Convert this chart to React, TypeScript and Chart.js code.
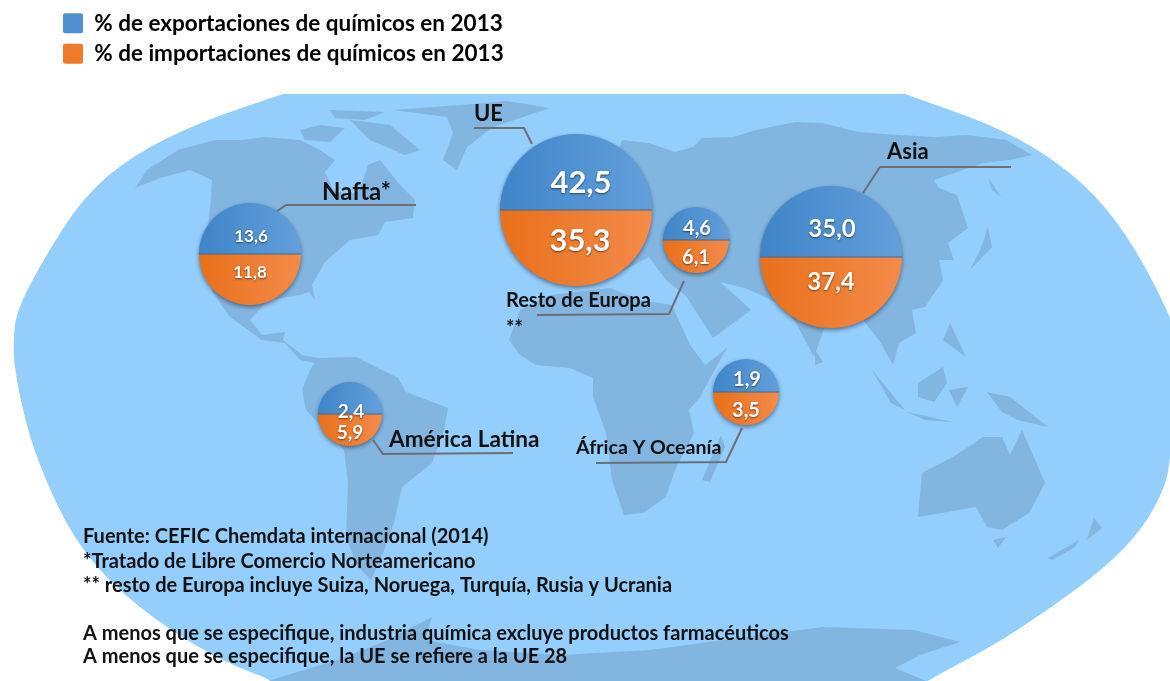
import React, { useEffect, useRef } from "react";
import { Chart, registerables } from "chart.js";

Chart.register(...registerables);

const seriesNames = ["% de exportaciones de químicos en 2013", "% de importaciones de químicos en 2013"];
const regions = ["Nafta", "UE", "Resto de Europa", "Asia", "América Latina", "África y Oceanía"];
const exportsPct = [13.6, 42.5, 4.6, 35.0, 2.4, 1.9];
const importsPct = [11.8, 35.3, 6.1, 37.4, 5.9, 3.5];

// Where each bubble sits on the map (map units match the 1170x681 frame)
const mapX = [250, 576, 696, 831, 350, 746];
const mapY = [254, 210, 240, 257, 414, 392];
const bubbleR = [51, 76, 33, 71, 32, 33];
const valueFont = [17, 31, 20, 24, 19, 20];
const exportLabelDy = [-17, -27, -11, -28, -2, -12];
const importLabelDy = [19, 31, 18, 25, 19, 19];

const FONT = "Lato, 'Open Sans', sans-serif";

const regionLabels: [string, number, number, number][] = [
  ["UE", 474, 114, 22],
  ["Nafta*", 322, 192, 24],
  ["Asia", 887, 152, 22],
  ["Resto de Europa", 506, 301, 20],
  ["**", 506, 329, 20],
  ["América Latina", 389, 440, 22.6],
  ["África Y Oceanía", 576, 448, 19.6],
];
const footnotes: [string, number][] = [
  ["Fuente: CEFIC Chemdata internacional (2014)", 537],
  ["*Tratado de Libre Comercio Norteamericano", 562],
  ["** resto de Europa incluye Suiza, Noruega, Turquía, Rusia y Ucrania", 586],
  ["A menos que se especifique, industria química excluye productos farmacéuticos", 634],
  ["A menos que se especifique, la UE se refiere a la UE 28", 657],
];
const leaders: number[][][] = [
  [[276, 212], [286, 205], [416, 205]],
  [[474, 128], [524, 128], [532, 144]],
  [[863, 193], [880, 167], [1011, 167]],
  [[684, 281], [669, 314], [537, 315]],
  [[373, 440], [383, 454], [513, 453]],
  [[742, 428], [726, 462], [596, 463]],
];

const ocean = [
  [283, 94], [905, 94], [1006, 130], [1073, 173], [1117, 220], [1153, 280], [1180, 340], [1185, 400], [1170, 453],
  [1167, 483], [1144, 527], [1106, 567], [1048, 610], [991, 647], [926, 681], [900, 700], [300, 700], [275, 681],
  [226, 663], [165, 627], [115, 587], [80, 547], [54, 500], [29, 437], [15, 373], [13, 340], [17, 310], [43, 260],
  [83, 197], [133, 155], [200, 122],
];
const land: number[][][] = [
  // North and Central America
  [[135, 188], [147, 170], [178, 150], [215, 140], [243, 140], [265, 137], [300, 140], [320, 150], [335, 160], [325, 172], [333, 190], [350, 195], [360, 190], [368, 165], [380, 160], [400, 185], [415, 200], [413, 218], [385, 222], [378, 235], [350, 240], [325, 262], [312, 285], [315, 300], [309, 292], [300, 295], [268, 300], [250, 320], [262, 335], [285, 332], [283, 340], [302, 355], [318, 358], [320, 364], [300, 360], [285, 343], [262, 340], [230, 317], [213, 293], [205, 250], [210, 210], [212, 180], [190, 170], [160, 178]],
  // Arctic islands
  [[300, 130], [320, 125], [345, 128], [330, 142], [305, 140]],
  [[350, 120], [390, 125], [420, 150], [405, 155], [370, 140]],
  [[330, 110], [385, 112], [365, 120], [335, 118]],
  [[290, 152], [315, 150], [310, 160], [288, 160]],
  // Greenland
  [[443, 160], [457, 170], [467, 147], [493, 127], [550, 108], [507, 101], [460, 105], [393, 110], [447, 117], [453, 133]],
  // Eurasia
  [[622, 140], [649, 143], [675, 152], [693, 147], [702, 138], [733, 137], [756, 130], [796, 122], [823, 123], [858, 132], [899, 135], [934, 137], [966, 135], [1006, 140], [1032, 155], [1010, 160], [983, 163], [934, 180], [939, 188], [957, 195], [963, 213], [968, 228], [948, 243], [954, 260], [939, 260], [943, 280], [925, 307], [912, 310], [916, 333], [899, 343], [893, 365], [881, 343], [863, 320], [827, 320], [814, 357], [796, 323], [782, 305], [745, 288], [720, 282], [738, 298], [751, 310], [713, 338], [686, 296], [666, 280], [649, 257], [625, 270], [600, 275], [540, 270], [520, 260], [540, 220], [590, 190], [615, 160]],
  // Africa
  [[509, 340], [520, 310], [550, 295], [610, 288], [640, 300], [672, 305], [690, 345], [705, 365], [727, 348], [713, 373], [700, 397], [689, 410], [694, 433], [675, 470], [666, 497], [643, 513], [624, 515], [612, 480], [606, 433], [593, 397], [593, 378], [570, 368], [536, 365], [520, 355]],
  [[721, 435], [702, 480], [710, 482], [725, 447]],
  // South America
  [[318, 358], [356, 357], [398, 378], [406, 392], [448, 408], [444, 430], [432, 463], [402, 487], [394, 523], [383, 553], [371, 580], [358, 567], [346, 537], [348, 483], [344, 450], [306, 410], [302, 390], [310, 370]],
  // Australia, New Zealand
  [[953, 457], [983, 437], [1002, 437], [1010, 455], [1022, 430], [1045, 483], [1029, 513], [1002, 530], [987, 527], [976, 507], [918, 517], [922, 473]],
  [[993, 540], [1006, 537], [998, 548]],
  [[1048, 558], [1079, 540], [1075, 547], [1052, 560]],
  [[1094, 518], [1102, 528], [1087, 540], [1090, 530]],
  // South-east Asia, Japan
  [[872, 370], [905, 410], [891, 403]],
  [[918, 383], [943, 367], [947, 383], [934, 402], [918, 397]],
  [[907, 412], [953, 422], [925, 420]],
  [[949, 390], [968, 387], [957, 407]],
  [[987, 392], [1010, 397], [1048, 427], [1018, 420], [1002, 412]],
  [[950, 323], [966, 357], [943, 340]],
  [[988, 227], [992, 247], [970, 270], [980, 250]],
  [[988, 177], [1001, 197], [992, 190]],
  [[815, 350], [823, 362], [815, 365]],
  // Antarctica
  [[268, 681], [337, 660], [383, 642], [432, 617], [425, 640], [480, 650], [560, 655], [650, 650], [723, 640], [823, 627], [914, 630], [960, 642], [920, 655], [895, 668], [926, 681]],
];

const fmt = (v: number) => v.toFixed(1).replace(".", ",");

const toPoints = (values: number[]) =>
  values.map((v, i) => ({ x: mapX[i], y: mapY[i], r: bubbleR[i], v }));

const gradient = (left: string, right: string) => (ctx: any) => {
  const raw = ctx.raw;
  if (!raw) return left;
  const sx = ctx.chart.scales.x;
  const x0 = sx.getPixelForValue(raw.x - raw.r);
  const x1 = sx.getPixelForValue(raw.x + raw.r);
  if (!Number.isFinite(x0) || !Number.isFinite(x1)) return left;
  const g = ctx.chart.ctx.createLinearGradient(x0, 0, x1, 0);
  g.addColorStop(0, left);
  g.addColorStop(1, right);
  return g;
};

const mapPlugin = {
  id: "worldMap",
  afterLayout(chart: any) {
    chart.legend.left = 55;
    chart.legend.top = 4;
  },
  beforeDatasetsDraw(chart: any) {
    const { ctx, scales } = chart;
    const X = (v: number) => scales.x.getPixelForValue(v);
    const Y = (v: number) => scales.y.getPixelForValue(v);
    ctx.save();
    ctx.fillStyle = "#93CEFD";
    ctx.beginPath();
    const n = ocean.length;
    ctx.moveTo(X(ocean[0][0]), Y(ocean[0][1]));
    ctx.lineTo(X(ocean[1][0]), Y(ocean[1][1]));
    for (let i = 1; i < n; i++) {
      const p = ocean[i];
      const q = ocean[(i + 1) % n];
      ctx.quadraticCurveTo(X(p[0]), Y(p[1]), X((p[0] + q[0]) / 2), Y((p[1] + q[1]) / 2));
    }
    ctx.closePath();
    ctx.fill();
    ctx.fillStyle = "#82B5E0";
    for (const poly of land) {
      ctx.beginPath();
      poly.forEach((p, i) => (i ? ctx.lineTo(X(p[0]), Y(p[1])) : ctx.moveTo(X(p[0]), Y(p[1]))));
      ctx.closePath();
      ctx.fill();
    }
    ctx.strokeStyle = "#6B6F74";
    ctx.lineWidth = 2;
    for (const l of leaders) {
      ctx.beginPath();
      l.forEach((p, i) => (i ? ctx.lineTo(X(p[0]), Y(p[1])) : ctx.moveTo(X(p[0]), Y(p[1]))));
      ctx.stroke();
    }
    ctx.restore();
  },
  beforeDatasetDraw(chart: any, args: any) {
    const { ctx, scales } = chart;
    const top = args.index === 0;
    ctx.save();
    ctx.beginPath();
    mapX.forEach((x, i) => {
      const px = scales.x.getPixelForValue(x);
      const py = scales.y.getPixelForValue(mapY[i]);
      const r = bubbleR[i];
      if (top) ctx.rect(px - r - 4, py - r - 4, 2 * r + 8, r + 4);
      else ctx.rect(px - r - 8, py, 2 * r + 16, r + 12);
    });
    ctx.clip();
    ctx.shadowColor = "rgba(30,40,60,0.55)";
    ctx.shadowBlur = 4;
    ctx.shadowOffsetY = 2;
  },
  afterDatasetDraw(chart: any) {
    chart.ctx.restore();
  },
  afterDatasetsDraw(chart: any) {
    const { ctx, scales } = chart;
    const X = (v: number) => scales.x.getPixelForValue(v);
    const Y = (v: number) => scales.y.getPixelForValue(v);
    ctx.save();
    ctx.strokeStyle = "#45688A";
    ctx.lineWidth = 1;
    mapX.forEach((x, i) => {
      ctx.beginPath();
      ctx.moveTo(X(x) - bubbleR[i], Y(mapY[i]));
      ctx.lineTo(X(x) + bubbleR[i], Y(mapY[i]));
      ctx.stroke();
    });
    ctx.textBaseline = "middle";
    ctx.textAlign = "center";
    regions.forEach((_, i) => {
      ctx.font = `bold ${valueFont[i]}px ${FONT}`;
      ctx.fillStyle = "#FFFFFF";
      ctx.shadowColor = "rgba(0,0,0,0.55)";
      ctx.shadowBlur = 2;
      ctx.shadowOffsetY = 1;
      ctx.fillText(fmt(exportsPct[i]), X(mapX[i]) + (i === 1 ? 5 : 1), Y(mapY[i] + exportLabelDy[i]));
      ctx.fillText(fmt(importsPct[i]), X(mapX[i]) + (i === 1 ? 4 : 0), Y(mapY[i] + importLabelDy[i]));
    });
    ctx.shadowColor = "transparent";
    ctx.textAlign = "left";
    ctx.fillStyle = "#111111";
    for (const [t, x, y, s] of regionLabels) {
      ctx.font = `bold ${s}px ${FONT}`;
      ctx.fillText(t, X(x), Y(y));
    }
    ctx.font = `bold 20px ${FONT}`;
    for (const [t, y] of footnotes) ctx.fillText(t, X(83), Y(y));
    ctx.restore();
  },
};

export default function App() {
  const ref = useRef<HTMLCanvasElement>(null);
  useEffect(() => {
    const chart = new Chart(ref.current as HTMLCanvasElement, {
      type: "bubble",
      data: {
        datasets: [
          { label: seriesNames[0], data: toPoints(exportsPct), backgroundColor: gradient("#3F85C8", "#639FDB"), borderWidth: 0 },
          { label: seriesNames[1], data: toPoints(importsPct), backgroundColor: gradient("#E8701A", "#F48B4A"), borderWidth: 0 },
        ],
      } as any,
      options: {
        responsive: false,
        animation: false,
        layout: { padding: 0, autoPadding: false },
        scales: {
          x: { type: "linear", min: 0, max: 1170, display: false },
          y: { type: "linear", min: 0, max: 681, reverse: true, display: false },
        },
        plugins: {
          tooltip: { enabled: false },
          legend: {
            position: "chartArea",
            align: "start",
            labels: {
              color: "#111111",
              font: { family: FONT, size: 22.5, weight: "bold" },
              boxWidth: 20,
              boxHeight: 20,
              padding: 8,
              useBorderRadius: true,
              borderRadius: 2,
              generateLabels: () =>
                seriesNames.map((text, i) => ({
                  text,
                  fillStyle: i ? "#EF7A2A" : "#4F90D0",
                  strokeStyle: "transparent",
                  lineWidth: 0,
                  datasetIndex: i,
                  borderRadius: 2,
                })),
            },
          },
        },
      } as any,
      plugins: [mapPlugin],
    });
    return () => chart.destroy();
  }, []);
  return (
    <div style={{ position: "fixed", left: 0, top: 0, width: 1170, height: 681 }}>
      <canvas ref={ref} width={1170} height={681} style={{ display: "block" }} />
    </div>
  );
}
